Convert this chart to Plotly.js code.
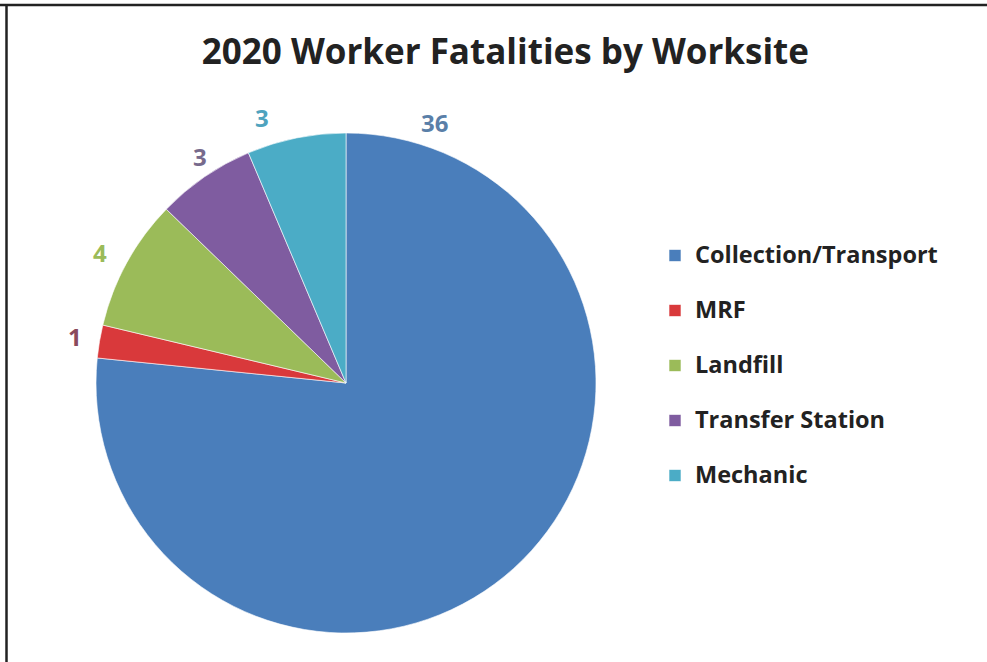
<!DOCTYPE html>
<html>
<head>
<meta charset="utf-8">
<script src="https://cdn.plot.ly/plotly-3.0.1.min.js"></script>
<style>html,body{margin:0;padding:0;background:#fff;}#chart{width:987px;height:662px;}</style>
</head>
<body>
<div id="chart"></div>
<script>
const categories = ["Collection/Transport", "MRF", "Landfill", "Transfer Station", "Mechanic"];
const values = [36, 1, 4, 3, 3];
const sliceColors = ["#4A7EBB", "#D9393B", "#9BBB59", "#7F5CA0", "#4BACC6"];
const labelColors = ["#5A7FA8", "#8A4A5C", "#9BBB59", "#776A8C", "#4FA3BE"];
const chartTitle = "2020 Worker Fatalities by Worksite";

// label positions (paper coords) for each value label, placed like the reference
const labelPos = [[0.440, 0.815], [0.076, 0.492], [0.101, 0.618], [0.203, 0.764], [0.265, 0.823]];

const W = 987, H = 662;
const cx = 346, cy = 383, r = 250;

const trace = {
  type: "pie",
  labels: categories.map(c => '<span style="font-size:23.5px">' + c + '</span><br> '),
  values: values,
  sort: false,
  direction: "clockwise",
  rotation: 0,
  textinfo: "none",
  hoverinfo: "label+value",
  marker: { colors: sliceColors, line: { color: "rgba(255,255,255,0.6)", width: 1 } },
  domain: { x: [(cx - r) / W, (cx + r) / W], y: [(H - cy - r) / H, (H - cy + r) / H] }
};

const annotations = values.map((v, i) => ({
  text: String(v),
  x: labelPos[i][0], y: labelPos[i][1], xref: "paper", yref: "paper",
  showarrow: false, xanchor: "center", yanchor: "middle",
  font: { family: "Open Sans", size: 24, color: labelColors[i], weight: 700 }
}));

const layout = {
  width: W, height: H,
  margin: { l: 0, r: 0, t: 0, b: 0 },
  paper_bgcolor: "#fff",
  title: {
    text: "<b>" + chartTitle + "</b>",
    x: 0.512, xanchor: "center", y: 1 - 52 / H, yanchor: "middle",
    font: { family: "Open Sans", size: 35, color: "#222" }
  },
  showlegend: true,
  legend: {
    x: 655 / W, xanchor: "left", y: 1 - 236 / H, yanchor: "top",
    valign: "top",
    font: { family: "Open Sans", size: 20, color: "#222", weight: 700 },
    bgcolor: "rgba(0,0,0,0)"
  },
  annotations: annotations,
  shapes: [
    { type: "line", xref: "paper", yref: "paper", x0: 0, x1: 1, y0: 1 - 5 / H, y1: 1 - 5 / H, line: { color: "#222", width: 2.5 } },
    { type: "line", xref: "paper", yref: "paper", x0: 6.5 / W, x1: 6.5 / W, y0: 0, y1: 1 - 4 / H, line: { color: "#222", width: 2.5 } }
  ]
};

Plotly.newPlot("chart", [trace], layout, { displayModeBar: false, staticPlot: true });
</script>
</body>
</html>
